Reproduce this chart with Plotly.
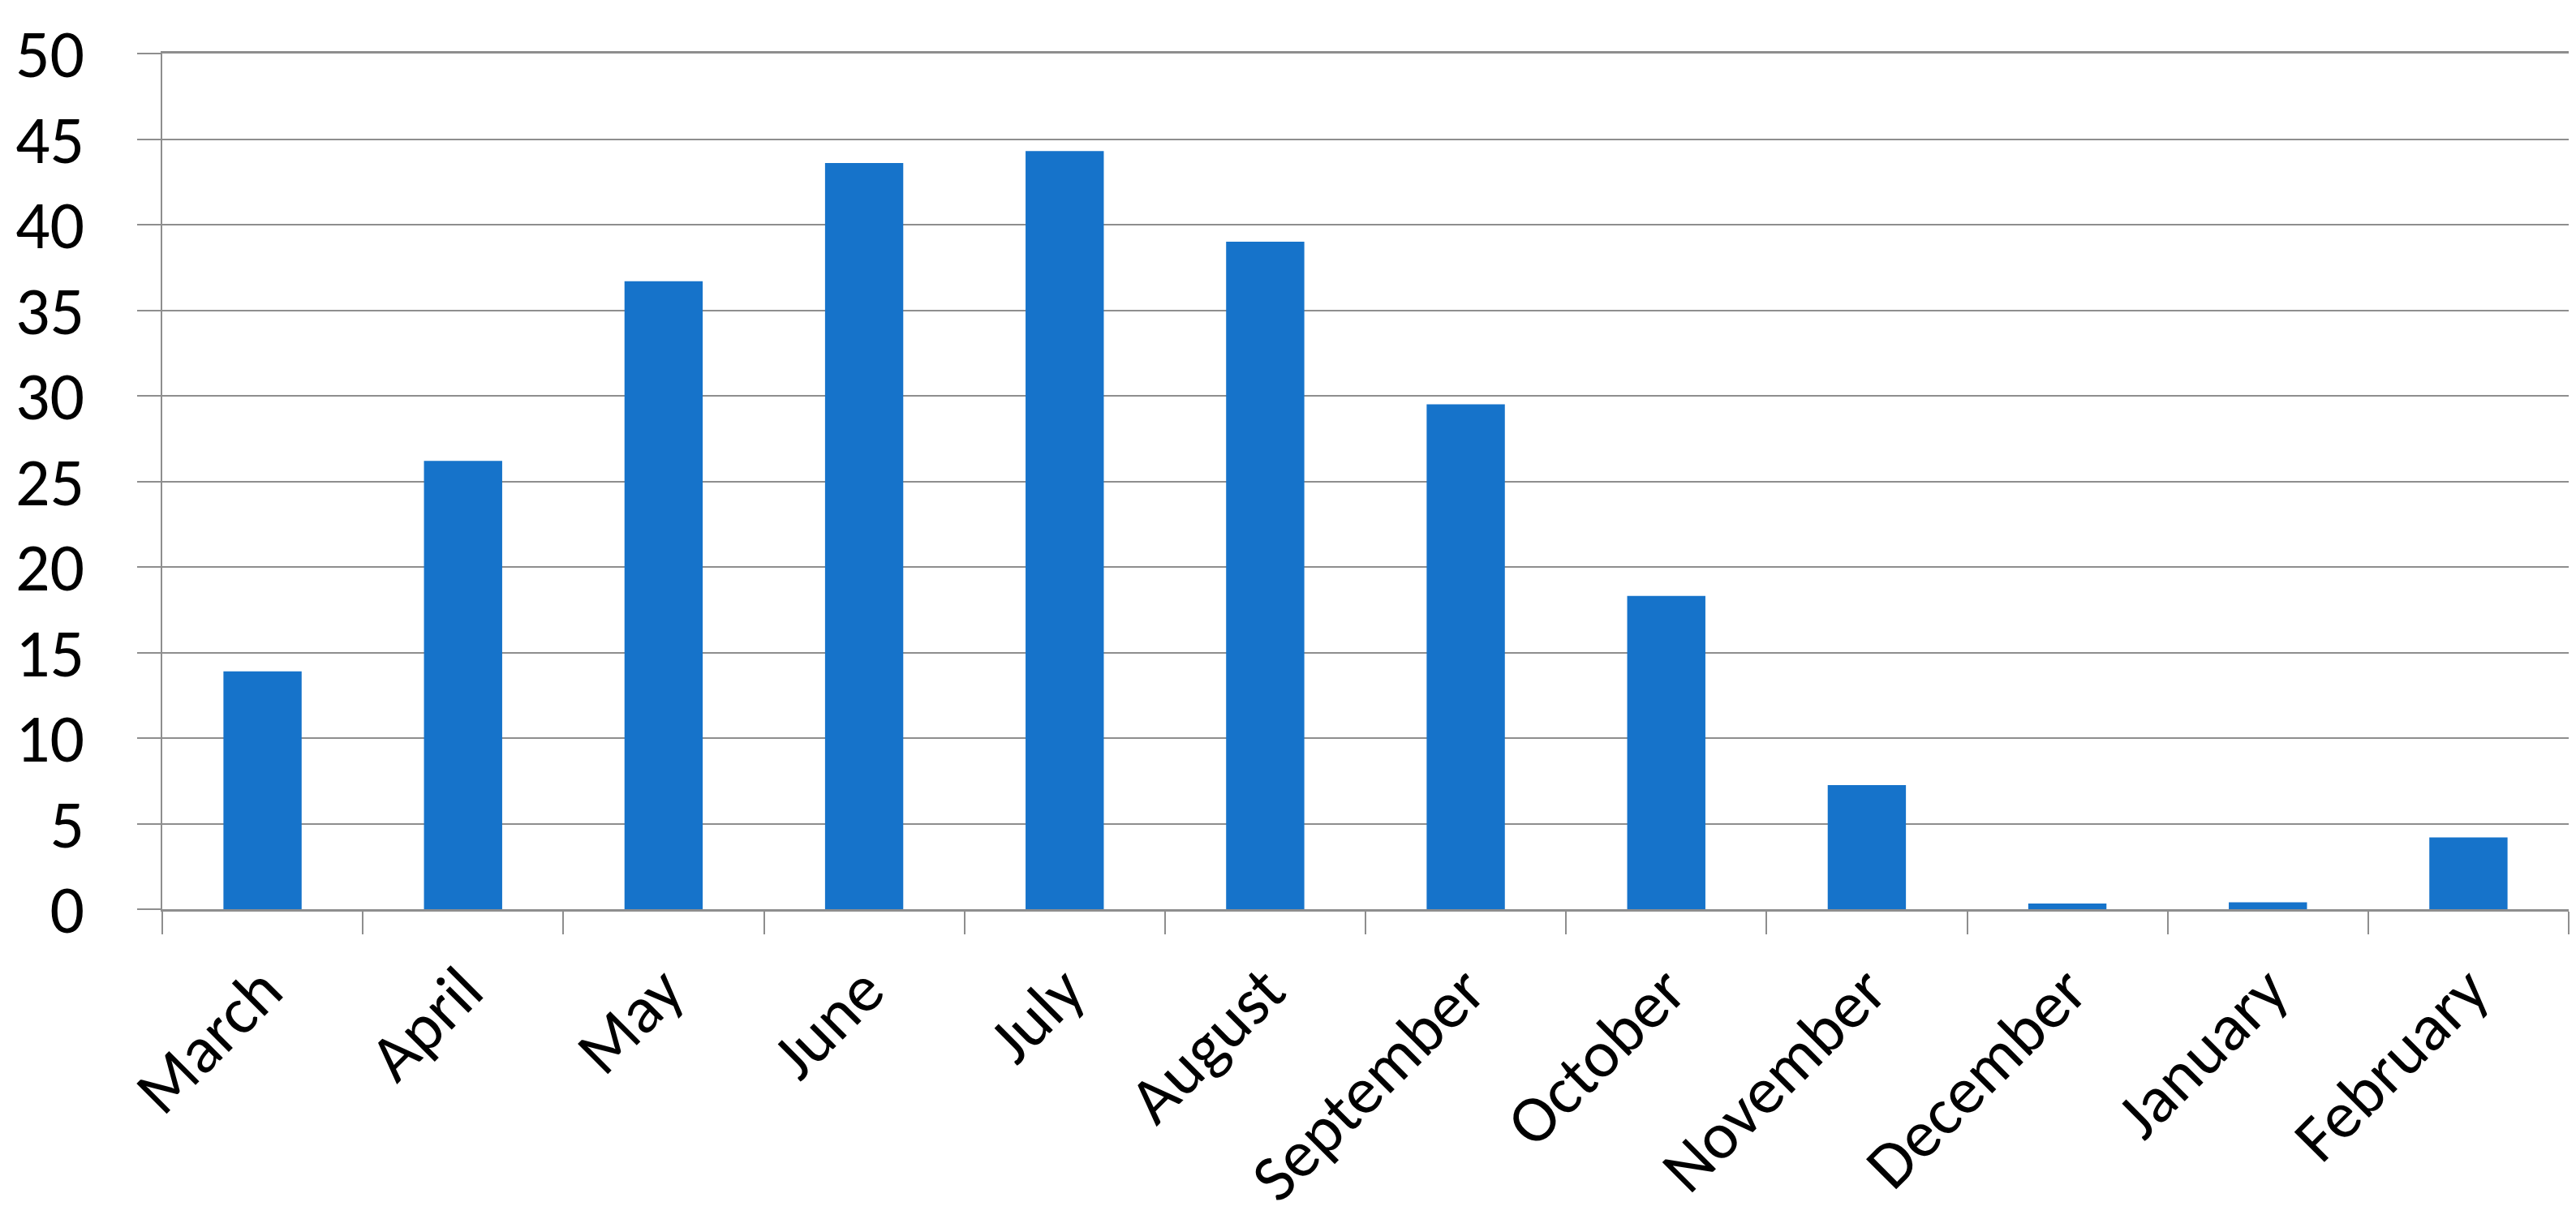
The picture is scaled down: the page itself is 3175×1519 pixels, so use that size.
import plotly.graph_objects as go

months = ["March", "April", "May", "June", "July", "August", "September",
          "October", "November", "December", "January", "February"]
values = [13.9, 26.2, 36.7, 43.6, 44.3, 39.0, 29.5, 18.3, 7.25, 0.33, 0.4, 4.2]
y_ticks = [0, 5, 10, 15, 20, 25, 30, 35, 40, 45, 50]

FONT = "Carlito, Lato, sans-serif"
GRID = "#8e8e8e"

fig = go.Figure(go.Bar(x=months, y=values, marker=dict(color="#1673CA", line=dict(width=0))))

fig.update_layout(
    width=3175, height=1519,
    margin=dict(l=192, r=17, t=58, b=406),
    paper_bgcolor="white", plot_bgcolor="white",
    bargap=0.61,
    showlegend=False,
    font=dict(family=FONT, size=84, color="black"),
)
fig.update_xaxes(
    type="category", tickson="boundaries", ticks="outside", ticklen=28,
    tickwidth=2, tickcolor=GRID, showline=True, linecolor=GRID,
    linewidth=3, mirror=True, tickangle=-45, showgrid=False, automargin=False,
    tickfont=dict(family=FONT, size=82, color="black"), ticklabelstandoff=16,
)
fig.update_yaxes(
    range=[0, 50], tickvals=y_ticks, ticks="outside", ticklen=29, tickwidth=2,
    tickcolor=GRID, showgrid=True, gridcolor=GRID, gridwidth=2,
    showline=True, linecolor=GRID, linewidth=2, zeroline=False, automargin=False,
    tickfont=dict(family=FONT, size=84, color="black"), ticklabelstandoff=48,
)

fig.write_html("out.html")
